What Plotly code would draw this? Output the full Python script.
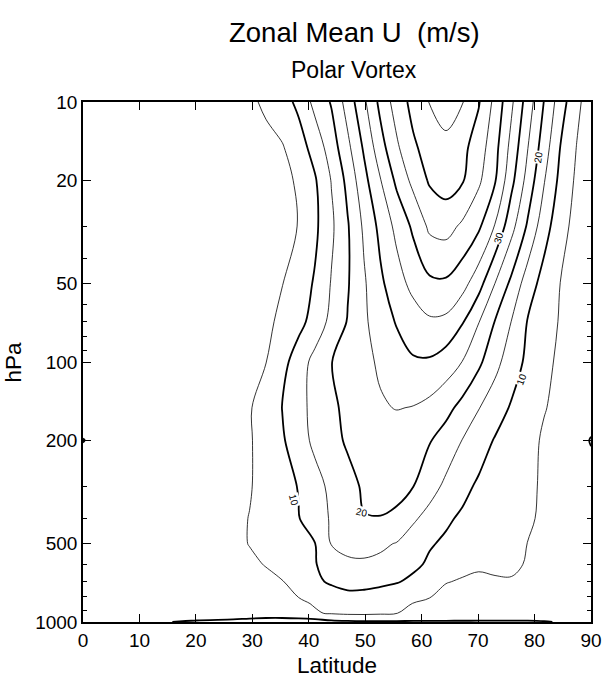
import plotly.graph_objects as go
import math

# ---- data ----
latitude = [0, 5, 10, 15, 20, 26.6, 29.5, 32.4, 35.3, 38.2, 41.1, 44.0, 46.9, 49.8,
            52.7, 55.6, 58.5, 61.4, 64.3, 67.2, 70.1, 73.0, 75.9, 78.8, 81.7, 84.6, 87.5, 90]
pressure = [10, 15, 20, 30, 50, 70, 100, 150, 200, 300, 400, 500, 600, 700, 850, 925, 1000]

u_10 = [1.5, 1.5, 1.5, 1.8, 2.0, 3.0, 4.0, 5.9, 8.1, 11.1, 16.5, 20.4, 27.1, 34.1, 41.4, 47.3, 51.5, 55.2, 57.5, 55.3, 50.4, 43.6, 35.9, 27.6, 19.8, 12.3, 6.1, 2.5]
u_15 = [1.5, 1.5, 1.5, 1.8, 2.0, 2.5, 3.0, 3.5, 4.6, 7.8, 11.9, 17.4, 23.8, 30.7, 38.0, 44.2, 49.2, 52.0, 53.5, 51.3, 47.6, 41.6, 33.4, 25.1, 17.4, 9.8, 4.8, 1.8]
u_20 = [1.5, 1.5, 1.5, 1.8, 2.0, 2.5, 3.0, 3.5, 3.8, 5.6, 9.5, 15.2, 21.4, 28.5, 34.8, 41.1, 46.4, 50.6, 52.3, 50.5, 45.9, 40.4, 31.4, 23.1, 15.3, 8.6, 4.1, 1.5]
u_30 = [1.5, 1.5, 1.5, 1.8, 2.0, 2.5, 3.0, 3.5, 4.0, 5.1, 9.0, 14.1, 19.6, 25.9, 31.4, 36.4, 40.9, 46.0, 46.8, 44.2, 40.9, 34.7, 26.7, 19.3, 12.0, 6.9, 3.2, 2.0]
u_50 = [1.5, 1.5, 1.5, 1.8, 2.0, 2.5, 3.0, 3.8, 4.9, 7.6, 10.5, 15.3, 19.6, 24.4, 29.1, 32.9, 36.5, 39.0, 39.2, 36.8, 31.9, 24.9, 18.8, 12.4, 8.1, 4.9, 3.3, 2.5]
u_70 = [1.5, 1.5, 1.5, 1.8, 2.0, 2.7, 3.3, 4.1, 5.9, 8.5, 11.9, 16.4, 20.3, 24.2, 27.5, 30.4, 32.5, 34.3, 33.9, 30.4, 25.2, 19.8, 14.9, 9.7, 7.1, 4.6, 3.3, 2.5]
u_100 = [1.5, 1.5, 1.5, 1.8, 2.0, 2.8, 3.6, 4.9, 8.4, 12.5, 16.6, 19.9, 21.9, 23.8, 25.7, 27.8, 29.5, 29.4, 27.6, 24.9, 21.0, 16.5, 12.4, 8.9, 6.3, 4.0, 3.0, 2.5]
u_150 = [1.8, 1.8, 1.8, 2.1, 2.5, 3.5, 4.6, 7.3, 10.1, 13.5, 16.4, 19.0, 21.2, 23.0, 24.5, 25.2, 24.8, 23.6, 21.5, 18.5, 15.2, 12.3, 9.5, 7.3, 5.2, 4.0, 3.0, 2.5]
u_200 = [-0.1, 1.5, 2.2, 2.6, 3.0, 3.8, 4.6, 6.8, 9.4, 12.9, 16.1, 18.6, 20.6, 21.8, 22.4, 22.3, 21.6, 20.3, 17.9, 14.9, 12.2, 9.65, 7.9, 6.2, 4.5, 3.5, 2.0, -0.3]
u_300 = [2.0, 2.2, 2.5, 2.8, 3.2, 4.0, 4.7, 6.5, 8.4, 10.2, 13.3, 16.1, 18.6, 20.6, 21.0, 20.8, 20.1, 17.0, 14.0, 11.3, 9.3, 8.1, 6.9, 5.7, 4.5, 3.5, 2.5, 2.0]
u_400 = [2.0, 2.2, 2.5, 2.9, 3.3, 4.1, 5.1, 6.7, 8.2, 9.8, 12.6, 15.5, 17.8, 19.85, 19.9, 19.5, 15.7, 13.3, 10.7, 9.3, 8.3, 7.3, 6.4, 5.4, 4.5, 3.5, 2.5, 2.0]
u_500 = [2.0, 2.2, 2.5, 2.9, 3.3, 4.2, 5.1, 6.3, 7.5, 8.7, 9.9, 15.2, 16.3, 16.4, 15.9, 14.7, 12.6, 10.4, 9.3, 8.5, 7.6, 6.7, 5.9, 4.95, 4.2, 3.4, 2.6, 2.2]
u_600 = [2.0, 2.2, 2.5, 2.8, 3.2, 3.9, 4.4, 5.15, 6.7, 8.2, 9.7, 12.5, 14.2, 14.4, 13.8, 12.6, 11.0, 9.3, 7.3, 5.6, 5.3, 5.9, 6.4, 4.4, 4.0, 3.3, 2.6, 2.2]
u_700 = [2.0, 2.1, 2.3, 2.5, 2.8, 3.3, 3.7, 4.2, 4.8, 6.8, 9.2, 10.6, 11.6, 11.5, 11.0, 10.3, 9.0, 7.0, 5.1, 4.8, 4.6, 4.5, 4.4, 4.0, 3.7, 3.2, 2.6, 2.2]
u_850 = [1.8, 1.9, 2.0, 2.2, 2.4, 2.7, 3.0, 3.3, 3.7, 4.3, 5.3, 6.8, 7.5, 7.4, 6.8, 5.9, 4.9, 4.3, 4.0, 3.8, 3.7, 3.6, 3.5, 3.3, 3.0, 2.7, 2.3, 2.0]
u_925 = [1.8, 1.9, 2.0, 2.2, 2.4, 2.8, 3.1, 3.4, 3.8, 4.2, 4.6, 5.4, 5.9, 6.0, 5.7, 5.05, 4.4, 4.0, 3.8, 3.6, 3.5, 3.4, 3.3, 3.1, 2.8, 2.5, 2.2, 2.0]
u_1000 = [0.8, 0.6, 0.5, 0.1, -0.5, -1.2, -2.0, -2.8, -3.2, -3.0, -2.2, -1.2, -0.8, -0.6, -0.6, -0.6, -0.6, -0.6, -0.6, -0.6, -0.6, -0.6, -0.6, -0.6, -0.3, 0.3, 0.6, 0.8]

u_wind = [u_10, u_15, u_20, u_30, u_50, u_70, u_100, u_150, u_200,
          u_300, u_400, u_500, u_600, u_700, u_850, u_925, u_1000]

x_ticks = [0, 10, 20, 30, 40, 50, 60, 70, 80, 90]
y_ticks = [10, 20, 50, 100, 200, 500, 1000]
y_minor = [30, 40, 60, 70, 80, 90, 300, 400, 600, 700, 800, 900]

label_text = ["10", "10", "20", "20", "30"]
label_lat = [37.4, 77.7, 49.5, 80.6, 73.7]
label_hpa = [340, 117, 378, 16.3, 33.3]
label_angle = [75, -70, 12, -82, -72]

FONT = "Liberation Sans, Arial, Helvetica, sans-serif"

fig = go.Figure()
# thin contours 5, 15, 25, ...
fig.add_trace(go.Contour(
    x=latitude, y=pressure, z=u_wind,
    contours=dict(start=5, end=55, size=10, coloring="none"),
    line=dict(color="black", width=0.8),
    showscale=False, hoverinfo="skip"))
# thick contours 0, 10, 20, ...
fig.add_trace(go.Contour(
    x=latitude, y=pressure, z=u_wind,
    contours=dict(start=0, end=50, size=10, coloring="none"),
    line=dict(color="black", width=1.8),
    showscale=False, hoverinfo="skip"))

for t, la, p, a in zip(label_text, label_lat, label_hpa, label_angle):
    fig.add_annotation(x=la, y=math.log10(p), xref="x", yref="y", text=t,
                       showarrow=False, textangle=a, bgcolor="white",
                       font=dict(family=FONT, size=10, color="black"),
                       borderpad=0)

fig.add_annotation(x=0.534, y=1.1346, xref="paper", yref="paper",
                   text="Zonal Mean U\u00a0\u00a0(m/s)", showarrow=False,
                   xanchor="center", yanchor="middle",
                   font=dict(family=FONT, size=27.5, color="black"))
fig.add_annotation(x=0.534, y=1.0615, xref="paper", yref="paper",
                   text="Polar Vortex", showarrow=False,
                   xanchor="center", yanchor="middle",
                   font=dict(family=FONT, size=23, color="black"))
fig.add_annotation(x=-0.137, y=0.5, xref="paper", yref="paper",
                   text="hPa", showarrow=False, textangle=-90,
                   xanchor="center", yanchor="middle",
                   font=dict(family=FONT, size=22.5, color="black"))
fig.add_annotation(x=0.5, y=-0.0827, xref="paper", yref="paper",
                   text="Latitude", showarrow=False,
                   xanchor="center", yanchor="middle",
                   font=dict(family=FONT, size=22.5, color="black"))

fig.update_layout(
    width=614, height=678,
    margin=dict(l=83, r=13, t=102, b=56),
    paper_bgcolor="white", plot_bgcolor="white",
    showlegend=False,
    font=dict(family=FONT, color="black"),
    xaxis=dict(range=[0, 90], tickvals=x_ticks, ticks="inside", ticklen=8,
               tickwidth=1, tickcolor="black", showline=True, linecolor="black",
               linewidth=1.5, mirror="ticks", showgrid=False, zeroline=False,
               tickfont=dict(family=FONT, size=19, color="black")),
    yaxis=dict(type="log", range=[3, 1], tickvals=y_ticks,
               ticktext=[str(v) for v in y_ticks],
               ticks="inside", ticklen=8, tickwidth=1, tickcolor="black",
               minor=dict(tickvals=y_minor, ticks="inside", ticklen=4,
                          tickcolor="black", tickwidth=1, showgrid=False),
               showline=True, linecolor="black", linewidth=1.5, mirror="ticks",
               showgrid=False, zeroline=False,
               tickfont=dict(family=FONT, size=19, color="black")),
)

fig.write_html("out.html")
